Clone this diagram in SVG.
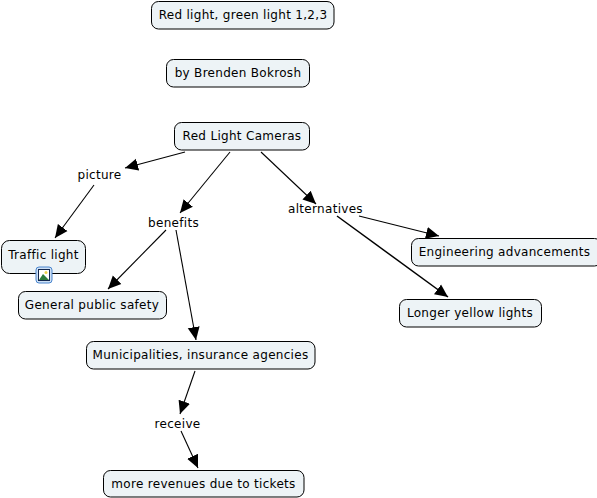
<svg xmlns="http://www.w3.org/2000/svg" width="597" height="498" viewBox="0 0 597 498">
<style>
text{font-family:"DejaVu Sans",Verdana,sans-serif;font-size:12px;letter-spacing:.3px;fill:#000;text-anchor:middle}
.n{fill:#edf3f6;stroke:#000;stroke-width:1}
.c{stroke:#000;stroke-width:1.1;fill:none;marker-end:url(#a)}
</style>
<defs>
<marker id="a" markerUnits="userSpaceOnUse" markerWidth="14" markerHeight="14" refX="13" refY="7" orient="auto"><path d="M0 1L13 7L0 13Z" fill="#000"/></marker>
</defs>
<rect width="597" height="498" fill="#fff"/>
<g id="connectors">
<path class="c" d="M185 152L125 168"/>
<path class="c" d="M94 185L55 238"/>
<path class="c" d="M230 152L180 213"/>
<path class="c" d="M166 230L108 289"/>
<path class="c" d="M176 230L196 340"/>
<path class="c" d="M195 371L180 414"/>
<path class="c" d="M181 431L198 468"/>
<path class="c" d="M261 152L316 204"/>
<path class="c" d="M359 216L439 236"/>
<path class="c" style="stroke-width:1.5" d="M337 216L448 297"/>
</g>
<g id="n1"><rect class="n" x="151.500" y="1.500" width="182.500" height="27.500" rx="7"/><text x="243" y="19">Red light, green light 1,2,3</text></g>
<g id="n2"><rect class="n" x="166.500" y="59.500" width="143" height="27.500" rx="7"/><text x="238" y="77">by Brenden Bokrosh</text></g>
<g id="n3"><rect class="n" x="174.500" y="122.500" width="135" height="27.500" rx="7"/><text x="242" y="140">Red Light Cameras</text></g>
<g id="l1"><text x="99.500" y="179">picture</text></g>
<g id="l2"><text x="173.500" y="227">benefits</text></g>
<g id="l3"><text x="325.500" y="213">alternatives</text></g>
<g id="l4"><text x="177.500" y="428">receive</text></g>
<g id="n4"><rect class="n" x="1.500" y="240.500" width="84" height="33" rx="8"/><text x="43.500" y="259">Traffic light</text>
<rect x="36" y="267" width="16" height="16" rx="3" fill="#cfe0f4" stroke="#4a86cf"/><rect x="38.500" y="269.500" width="11" height="11" fill="#fff" stroke="#12284f"/><path d="M39 280L43 274L49 280Z" fill="#2d7a3c"/><circle cx="46" cy="272.500" r="1.500" fill="#ecd34a"/></g>
<g id="n5"><rect class="n" x="18.500" y="291.500" width="148" height="27.500" rx="7"/><text x="92" y="309">General public safety</text></g>
<g id="n6"><rect class="n" x="86.500" y="341.500" width="228.500" height="27.500" rx="7"/><text x="200.500" y="359">Municipalities, insurance agencies</text></g>
<g id="n7"><rect class="n" x="103.500" y="470.500" width="200.500" height="26.500" rx="7"/><text x="203.500" y="488">more revenues due to tickets</text></g>
<g id="n8"><rect class="n" x="411.500" y="238.500" width="190" height="27.500" rx="7"/><text x="504.500" y="256">Engineering advancements</text></g>
<g id="n9"><rect class="n" x="399.500" y="299.500" width="142" height="27.500" rx="7"/><text x="470" y="317">Longer yellow lights</text></g>
</svg>
